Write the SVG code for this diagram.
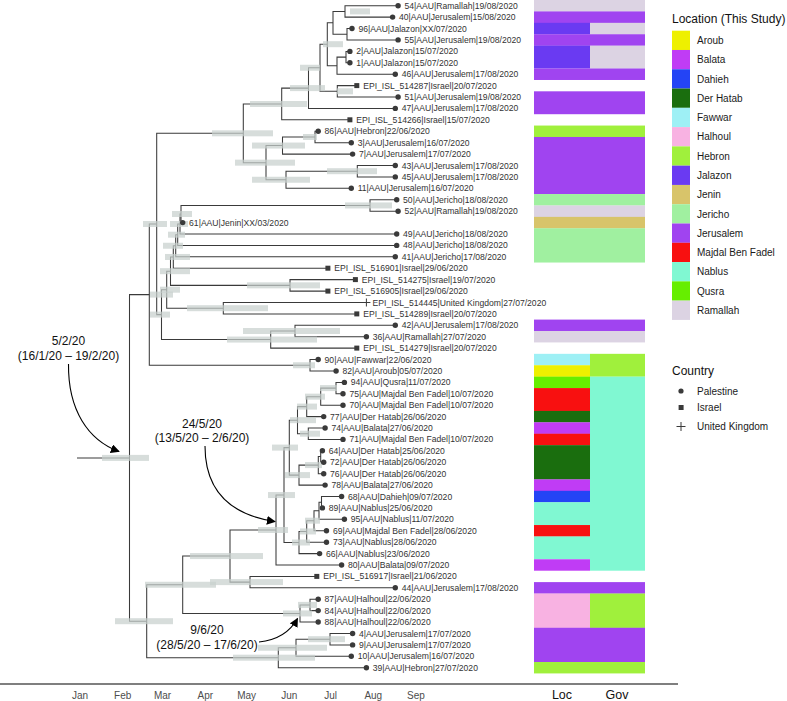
<svg xmlns="http://www.w3.org/2000/svg" width="787" height="701" viewBox="0 0 787 701">
<style>
text{font-family:"Liberation Sans",Arial,sans-serif}
.tl{font-size:8.6px;fill:#333}
.br{fill:none;stroke:#3a3a3a;stroke-width:1.05}
.hpd{fill:#c8d0cd;fill-opacity:.72}
.d{fill:#3a3a3a}
.ax{font-size:10px;fill:#4d4d4d;text-anchor:middle}
.an{font-size:12px;fill:#111;text-anchor:middle}
.lg{font-size:10px;fill:#1a1a1a}
.lt{font-size:12px;fill:#111}
.Aroub{fill:#EEF000}.Balata{fill:#C03CF5}.Dahieh{fill:#2444F5}.DerHatab{fill:#1A6E0E}.Fawwar{fill:#9EF0F5}.Halhoul{fill:#F8B2E2}.Hebron{fill:#A0F03C}.Jalazon{fill:#6A3AF2}.Jenin{fill:#D8C46A}.Jericho{fill:#A0F0A0}.Jerusalem{fill:#A044F0}.Majdal{fill:#F81010}.Nablus{fill:#80F8D2}.Qusra{fill:#66EE00}.Ramallah{fill:#DCD3E3}
</style>
<defs>
<marker id="ah" viewBox="0 0 10 10" refX="9" refY="5" markerWidth="9" markerHeight="9" orient="auto" markerUnits="userSpaceOnUse"><path d="M0,0 L10,5 L0,10 z" fill="#000"/></marker>
</defs>
<g id="connectors">
<path class="br" d="M77,457.9 H129.5"/>
<path class="br" d="M398.1,5.7 H345 V17.1 H392.6"/>
<path class="br" d="M352,28.5 H347 V39.9 H398.1"/>
<path class="br" d="M345,11.4 H333 V34.2 H347"/>
<path class="br" d="M349.9,51.4 H346 V62.8 H349.9"/>
<path class="br" d="M346,57.1 H337 V74.2 H395.3"/>
<path class="br" d="M333,22.8 H327.3 V65.65 H337"/>
<path class="br" d="M356.8,85.6 H337.3 V97 H398.1"/>
<path class="br" d="M327.3,44.2 H320 V91.3 H337.3"/>
<path class="br" d="M320,67.75 H308.5 V108.4 H395.3"/>
<path class="br" d="M308.5,88.1 H281.7 V119.8 H349.9"/>
<path class="br" d="M318.2,131.3 H315 V142.7 H351.3"/>
<path class="br" d="M315,137 H282.5 V154.1 H352.6"/>
<path class="br" d="M395.3,165.5 H357.3 V176.9 H395.3"/>
<path class="br" d="M357.3,171.2 H286 V188.3 H351.3"/>
<path class="br" d="M282.5,145.55 H266 V179.75 H286"/>
<path class="br" d="M281.7,103.95 H243.3 V162.65 H266"/>
<path class="br" d="M396.7,199.7 H370 V211.2 H398.1"/>
<path class="br" d="M370,205.45 H181 V222.6 H182.7"/>
<path class="br" d="M181,214 H180 V234 H396.7"/>
<path class="br" d="M180,224 H177.7 V245.4 H396.7"/>
<path class="br" d="M177.7,234.7 H175.7 V256.8 H395.3"/>
<path class="br" d="M175.7,245.75 H173.3 V268.2 H327.9"/>
<path class="br" d="M355.4,279.6 H290 V291.1 H327.9"/>
<path class="br" d="M173.3,256.98 H170.5 V285.35 H290"/>
<path class="br" d="M366.4,302.5 H223.3 V313.9 H356.8"/>
<path class="br" d="M170.5,271.17 H166.7 V308.2 H223.3"/>
<path class="br" d="M395.3,325.3 H295 V336.7 H366.4"/>
<path class="br" d="M295,331 H270.7 V348.1 H356.8"/>
<path class="br" d="M166.7,289.7 H161.5 V339.55 H270.7"/>
<path class="br" d="M243.3,133.3 H156.7 V314.6 H161.5"/>
<path class="br" d="M318.2,359.5 H310 V371 H336.1"/>
<path class="br" d="M156.7,223.95 H149.3 V365.25 H310"/>
<path class="br" d="M344.4,382.4 H336 V393.8 H343"/>
<path class="br" d="M336,388.1 H320.7 V405.2 H343"/>
<path class="br" d="M320.7,396.65 H306.7 V416.6 H323.7"/>
<path class="br" d="M325.1,428 H308.3 V439.4 H343"/>
<path class="br" d="M306.7,406.6 H297.5 V433.7 H308.3"/>
<path class="br" d="M322.4,450.8 H320.7 V462.3 H323.7"/>
<path class="br" d="M320.7,456.55 H318.3 V473.7 H323.7"/>
<path class="br" d="M318.3,465.1 H299 V485.1 H325.1"/>
<path class="br" d="M297.5,420.15 H289.3 V475.1 H299"/>
<path class="br" d="M341.6,496.5 H321.5 V507.9 H322.4"/>
<path class="br" d="M321.5,502.2 H319 V519.3 H344.4"/>
<path class="br" d="M319,510.75 H314 V530.7 H326.5"/>
<path class="br" d="M314,520.7 H306.7 V542.2 H326.5"/>
<path class="br" d="M306.7,531.45 H299 V553.6 H319.6"/>
<path class="br" d="M289.3,447.6 H284 V542.5 H299"/>
<path class="br" d="M284,495.05 H276 V565 H341.6"/>
<path class="br" d="M316.8,576.4 H250 V587.8 H395.3"/>
<path class="br" d="M276,530 H230 V582.1 H250"/>
<path class="br" d="M318.2,599.2 H310 V610.6 H318.2"/>
<path class="br" d="M310,604.9 H300 V622 H318.2"/>
<path class="br" d="M230,556.05 H182.7 V613.45 H300"/>
<path class="br" d="M352.6,633.5 H330 V644.9 H352.6"/>
<path class="br" d="M330,639.2 H296 V656.3 H351.3"/>
<path class="br" d="M296,647.75 H278.3 V667.7 H366.4"/>
<path class="br" d="M182.7,584.75 H146.7 V657.7 H278.3"/>
<path class="br" d="M149.3,294.6 H129.5 V621.2 H146.7"/>
</g>
<g id="hpd-bars">
<rect class="hpd" x="102" y="454.9" width="47" height="6"/>
<rect class="hpd" x="150" y="291.6" width="23" height="6"/>
<rect class="hpd" x="143" y="221" width="24" height="6"/>
<rect class="hpd" x="150" y="311.6" width="20" height="6"/>
<rect class="hpd" x="212" y="130.3" width="61" height="6"/>
<rect class="hpd" x="250" y="101" width="57" height="6"/>
<rect class="hpd" x="290" y="85.1" width="35" height="6"/>
<rect class="hpd" x="300" y="64.75" width="20" height="6"/>
<rect class="hpd" x="323" y="41.2" width="20" height="6"/>
<rect class="hpd" x="350" y="8.4" width="20" height="6"/>
<rect class="hpd" x="337" y="88.3" width="16" height="6"/>
<rect class="hpd" x="235" y="159.65" width="60" height="6"/>
<rect class="hpd" x="252" y="142.55" width="53" height="6"/>
<rect class="hpd" x="252" y="176.75" width="58" height="6"/>
<rect class="hpd" x="303" y="134" width="14" height="6"/>
<rect class="hpd" x="327" y="168.2" width="50" height="6"/>
<rect class="hpd" x="345" y="202.45" width="47" height="6"/>
<rect class="hpd" x="172" y="211" width="20" height="6"/>
<rect class="hpd" x="170" y="221" width="18" height="6"/>
<rect class="hpd" x="168" y="231.7" width="17" height="6"/>
<rect class="hpd" x="163" y="242.75" width="20" height="6"/>
<rect class="hpd" x="165" y="253.98" width="25" height="6"/>
<rect class="hpd" x="160" y="268.17" width="30" height="6"/>
<rect class="hpd" x="160" y="286.7" width="20" height="6"/>
<rect class="hpd" x="247" y="282.35" width="73" height="6"/>
<rect class="hpd" x="187" y="305.2" width="81" height="6"/>
<rect class="hpd" x="243" y="328" width="97" height="6"/>
<rect class="hpd" x="227" y="336.55" width="90" height="6"/>
<rect class="hpd" x="293" y="362.25" width="22" height="6"/>
<rect class="hpd" x="115" y="618.2" width="58" height="6"/>
<rect class="hpd" x="145" y="581.75" width="71" height="6"/>
<rect class="hpd" x="190" y="553.05" width="73" height="6"/>
<rect class="hpd" x="258" y="527" width="30" height="6"/>
<rect class="hpd" x="210" y="579.1" width="73" height="6"/>
<rect class="hpd" x="268" y="492.05" width="27" height="6"/>
<rect class="hpd" x="272" y="444.6" width="26" height="6"/>
<rect class="hpd" x="290" y="417.15" width="26" height="6"/>
<rect class="hpd" x="285" y="472.1" width="25" height="6"/>
<rect class="hpd" x="297" y="403.6" width="20" height="6"/>
<rect class="hpd" x="305" y="393.65" width="20" height="6"/>
<rect class="hpd" x="320" y="385.1" width="17" height="6"/>
<rect class="hpd" x="300" y="430.7" width="20" height="6"/>
<rect class="hpd" x="305" y="462.1" width="17" height="6"/>
<rect class="hpd" x="292" y="539.5" width="18" height="6"/>
<rect class="hpd" x="300" y="528.45" width="16" height="6"/>
<rect class="hpd" x="305" y="517.7" width="15" height="6"/>
<rect class="hpd" x="283" y="610.45" width="29" height="6"/>
<rect class="hpd" x="298" y="601.9" width="19" height="6"/>
<rect class="hpd" x="233" y="654.7" width="82" height="6"/>
<rect class="hpd" x="258" y="644.75" width="69" height="6"/>
<rect class="hpd" x="308" y="636.2" width="37" height="6"/>
</g>
<g id="tips">
<g id="t54"><circle class="d" cx="398.1" cy="5.7" r="2.7"/><text class="tl" x="404.5" y="8.7">54|AAU|Ramallah|19/08/2020</text></g>
<g id="t40"><circle class="d" cx="392.6" cy="17.1" r="2.7"/><text class="tl" x="399" y="20.1">40|AAU|Jerusalem|15/08/2020</text></g>
<g id="t96"><circle class="d" cx="352" cy="28.5" r="2.7"/><text class="tl" x="358.4" y="31.5">96|AAU|Jalazon|XX/07/2020</text></g>
<g id="t55"><circle class="d" cx="398.1" cy="39.9" r="2.7"/><text class="tl" x="404.5" y="42.9">55|AAU|Jerusalem|19/08/2020</text></g>
<g id="t2"><circle class="d" cx="349.9" cy="51.4" r="2.7"/><text class="tl" x="356.3" y="54.4">2|AAU|Jalazon|15/07/2020</text></g>
<g id="t1"><circle class="d" cx="349.9" cy="62.8" r="2.7"/><text class="tl" x="356.3" y="65.8">1|AAU|Jalazon|15/07/2020</text></g>
<g id="t46"><circle class="d" cx="395.3" cy="74.2" r="2.7"/><text class="tl" x="401.7" y="77.2">46|AAU|Jerusalem|17/08/2020</text></g>
<g id="e514287"><rect class="d" x="354.3" y="83.1" width="5" height="5"/><text class="tl" x="363.2" y="88.6">EPI_ISL_514287|Israel|20/07/2020</text></g>
<g id="t51"><circle class="d" cx="398.1" cy="97" r="2.7"/><text class="tl" x="404.5" y="100">51|AAU|Jerusalem|19/08/2020</text></g>
<g id="t47"><circle class="d" cx="395.3" cy="108.4" r="2.7"/><text class="tl" x="401.7" y="111.4">47|AAU|Jerusalem|17/08/2020</text></g>
<g id="e514266"><rect class="d" x="347.4" y="117.3" width="5" height="5"/><text class="tl" x="356.3" y="122.8">EPI_ISL_514266|Israel|15/07/2020</text></g>
<g id="t86"><circle class="d" cx="318.2" cy="131.3" r="2.7"/><text class="tl" x="324.6" y="134.3">86|AAU|Hebron|22/06/2020</text></g>
<g id="t3"><circle class="d" cx="351.3" cy="142.7" r="2.7"/><text class="tl" x="357.7" y="145.7">3|AAU|Jerusalem|16/07/2020</text></g>
<g id="t7"><circle class="d" cx="352.6" cy="154.1" r="2.7"/><text class="tl" x="359" y="157.1">7|AAU|Jerusalem|17/07/2020</text></g>
<g id="t43"><circle class="d" cx="395.3" cy="165.5" r="2.7"/><text class="tl" x="401.7" y="168.5">43|AAU|Jerusalem|17/08/2020</text></g>
<g id="t45"><circle class="d" cx="395.3" cy="176.9" r="2.7"/><text class="tl" x="401.7" y="179.9">45|AAU|Jerusalem|17/08/2020</text></g>
<g id="t11"><circle class="d" cx="351.3" cy="188.3" r="2.7"/><text class="tl" x="357.7" y="191.3">11|AAU|Jerusalem|16/07/2020</text></g>
<g id="t50"><circle class="d" cx="396.7" cy="199.7" r="2.7"/><text class="tl" x="403.1" y="202.7">50|AAU|Jericho|18/08/2020</text></g>
<g id="t52"><circle class="d" cx="398.1" cy="211.2" r="2.7"/><text class="tl" x="404.5" y="214.2">52|AAU|Ramallah|19/08/2020</text></g>
<g id="t61"><circle class="d" cx="182.7" cy="222.6" r="2.7"/><text class="tl" x="189.1" y="225.6">61|AAU|Jenin|XX/03/2020</text></g>
<g id="t49"><circle class="d" cx="396.7" cy="234" r="2.7"/><text class="tl" x="403.1" y="237">49|AAU|Jericho|18/08/2020</text></g>
<g id="t48"><circle class="d" cx="396.7" cy="245.4" r="2.7"/><text class="tl" x="403.1" y="248.4">48|AAU|Jericho|18/08/2020</text></g>
<g id="t41"><circle class="d" cx="395.3" cy="256.8" r="2.7"/><text class="tl" x="401.7" y="259.8">41|AAU|Jericho|17/08/2020</text></g>
<g id="e516901"><rect class="d" x="325.4" y="265.7" width="5" height="5"/><text class="tl" x="334.3" y="271.2">EPI_ISL_516901|Israel|29/06/2020</text></g>
<g id="e514275"><rect class="d" x="352.9" y="277.1" width="5" height="5"/><text class="tl" x="361.8" y="282.6">EPI_ISL_514275|Israel|19/07/2020</text></g>
<g id="e516905"><rect class="d" x="325.4" y="288.6" width="5" height="5"/><text class="tl" x="334.3" y="294.1">EPI_ISL_516905|Israel|29/06/2020</text></g>
<g id="e514445"><path d="M362.4,302.5 H370.4 M366.4,298.5 V306.5" stroke="#3a3a3a" stroke-width="1"/><text class="tl" x="372.6" y="305.5">EPI_ISL_514445|United Kingdom|27/07/2020</text></g>
<g id="e514289"><rect class="d" x="354.3" y="311.4" width="5" height="5"/><text class="tl" x="363.2" y="316.9">EPI_ISL_514289|Israel|20/07/2020</text></g>
<g id="t42"><circle class="d" cx="395.3" cy="325.3" r="2.7"/><text class="tl" x="401.7" y="328.3">42|AAU|Jerusalem|17/08/2020</text></g>
<g id="t36"><circle class="d" cx="366.4" cy="336.7" r="2.7"/><text class="tl" x="372.8" y="339.7">36|AAU|Ramallah|27/07/2020</text></g>
<g id="e514279"><rect class="d" x="354.3" y="345.6" width="5" height="5"/><text class="tl" x="363.2" y="351.1">EPI_ISL_514279|Israel|20/07/2020</text></g>
<g id="t90"><circle class="d" cx="318.2" cy="359.5" r="2.7"/><text class="tl" x="324.6" y="362.5">90|AAU|Fawwar|22/06/2020</text></g>
<g id="t82"><circle class="d" cx="336.1" cy="371" r="2.7"/><text class="tl" x="342.5" y="374">82|AAU|Aroub|05/07/2020</text></g>
<g id="t94"><circle class="d" cx="344.4" cy="382.4" r="2.7"/><text class="tl" x="350.8" y="385.4">94|AAU|Qusra|11/07/2020</text></g>
<g id="t75"><circle class="d" cx="343" cy="393.8" r="2.7"/><text class="tl" x="349.4" y="396.8">75|AAU|Majdal Ben Fadel|10/07/2020</text></g>
<g id="t70"><circle class="d" cx="343" cy="405.2" r="2.7"/><text class="tl" x="349.4" y="408.2">70|AAU|Majdal Ben Fadel|10/07/2020</text></g>
<g id="t77"><circle class="d" cx="323.7" cy="416.6" r="2.7"/><text class="tl" x="330.1" y="419.6">77|AAU|Der Hatab|26/06/2020</text></g>
<g id="t74"><circle class="d" cx="325.1" cy="428" r="2.7"/><text class="tl" x="331.5" y="431">74|AAU|Balata|27/06/2020</text></g>
<g id="t71"><circle class="d" cx="343" cy="439.4" r="2.7"/><text class="tl" x="349.4" y="442.4">71|AAU|Majdal Ben Fadel|10/07/2020</text></g>
<g id="t64"><circle class="d" cx="322.4" cy="450.8" r="2.7"/><text class="tl" x="328.8" y="453.8">64|AAU|Der Hatab|25/06/2020</text></g>
<g id="t72"><circle class="d" cx="323.7" cy="462.3" r="2.7"/><text class="tl" x="330.1" y="465.3">72|AAU|Der Hatab|26/06/2020</text></g>
<g id="t76"><circle class="d" cx="323.7" cy="473.7" r="2.7"/><text class="tl" x="330.1" y="476.7">76|AAU|Der Hatab|26/06/2020</text></g>
<g id="t78"><circle class="d" cx="325.1" cy="485.1" r="2.7"/><text class="tl" x="331.5" y="488.1">78|AAU|Balata|27/06/2020</text></g>
<g id="t68"><circle class="d" cx="341.6" cy="496.5" r="2.7"/><text class="tl" x="348" y="499.5">68|AAU|Dahieh|09/07/2020</text></g>
<g id="t89"><circle class="d" cx="322.4" cy="507.9" r="2.7"/><text class="tl" x="328.8" y="510.9">89|AAU|Nablus|25/06/2020</text></g>
<g id="t95"><circle class="d" cx="344.4" cy="519.3" r="2.7"/><text class="tl" x="350.8" y="522.3">95|AAU|Nablus|11/07/2020</text></g>
<g id="t69"><circle class="d" cx="326.5" cy="530.7" r="2.7"/><text class="tl" x="332.9" y="533.7">69|AAU|Majdal Ben Fadel|28/06/2020</text></g>
<g id="t73"><circle class="d" cx="326.5" cy="542.2" r="2.7"/><text class="tl" x="332.9" y="545.2">73|AAU|Nablus|28/06/2020</text></g>
<g id="t66"><circle class="d" cx="319.6" cy="553.6" r="2.7"/><text class="tl" x="326" y="556.6">66|AAU|Nablus|23/06/2020</text></g>
<g id="t80"><circle class="d" cx="341.6" cy="565" r="2.7"/><text class="tl" x="348" y="568">80|AAU|Balata|09/07/2020</text></g>
<g id="e516917"><rect class="d" x="314.3" y="573.9" width="5" height="5"/><text class="tl" x="323.2" y="579.4">EPI_ISL_516917|Israel|21/06/2020</text></g>
<g id="t44"><circle class="d" cx="395.3" cy="587.8" r="2.7"/><text class="tl" x="401.7" y="590.8">44|AAU|Jerusalem|17/08/2020</text></g>
<g id="t87"><circle class="d" cx="318.2" cy="599.2" r="2.7"/><text class="tl" x="324.6" y="602.2">87|AAU|Halhoul|22/06/2020</text></g>
<g id="t84"><circle class="d" cx="318.2" cy="610.6" r="2.7"/><text class="tl" x="324.6" y="613.6">84|AAU|Halhoul|22/06/2020</text></g>
<g id="t88"><circle class="d" cx="318.2" cy="622" r="2.7"/><text class="tl" x="324.6" y="625">88|AAU|Halhoul|22/06/2020</text></g>
<g id="t4"><circle class="d" cx="352.6" cy="633.5" r="2.7"/><text class="tl" x="359" y="636.5">4|AAU|Jerusalem|17/07/2020</text></g>
<g id="t9"><circle class="d" cx="352.6" cy="644.9" r="2.7"/><text class="tl" x="359" y="647.9">9|AAU|Jerusalem|17/07/2020</text></g>
<g id="t10"><circle class="d" cx="351.3" cy="656.3" r="2.7"/><text class="tl" x="357.7" y="659.3">10|AAU|Jerusalem|16/07/2020</text></g>
<g id="t39"><circle class="d" cx="366.4" cy="667.7" r="2.7"/><text class="tl" x="372.8" y="670.7">39|AAU|Hebron|27/07/2020</text></g>
</g>
<g id="heatmap">
<rect class="Ramallah" x="534" y="0" width="111" height="11.6"/>
<rect class="Jerusalem" x="534" y="11.41" width="111" height="11.6"/>
<rect class="Jalazon" x="534" y="22.83" width="56" height="11.6"/><rect class="Ramallah" x="590" y="22.83" width="55" height="11.6"/>
<rect class="Jerusalem" x="534" y="34.24" width="111" height="11.6"/>
<rect class="Jalazon" x="534" y="45.66" width="56" height="22.9"/><rect class="Ramallah" x="590" y="45.66" width="55" height="22.9"/>
<rect class="Jerusalem" x="534" y="68.48" width="111" height="11.5"/>
<rect class="Jerusalem" x="534" y="91.31" width="111" height="22.9"/>
<rect class="Hebron" x="534" y="125.55" width="111" height="11.6"/>
<rect class="Jerusalem" x="534" y="136.97" width="111" height="57.2"/>
<rect class="Jericho" x="534" y="194.04" width="111" height="11.6"/>
<rect class="Ramallah" x="534" y="205.45" width="111" height="11.6"/>
<rect class="Jenin" x="534" y="216.87" width="111" height="11.6"/>
<rect class="Jericho" x="534" y="228.28" width="111" height="34.25"/>
<rect class="Jerusalem" x="534" y="319.59" width="111" height="11.6"/>
<rect class="Ramallah" x="534" y="331.01" width="111" height="11.41"/>
<rect class="Fawwar" x="534" y="353.83" width="56" height="11.6"/>
<rect class="Aroub" x="534" y="365.25" width="56" height="11.6"/>
<rect class="Hebron" x="590" y="353.83" width="55" height="22.9"/>
<rect class="Qusra" x="534" y="376.66" width="56" height="11.6"/>
<rect class="Majdal" x="534" y="388.08" width="56" height="22.9"/>
<rect class="DerHatab" x="534" y="410.9" width="56" height="11.6"/>
<rect class="Balata" x="534" y="422.32" width="56" height="11.6"/>
<rect class="Majdal" x="534" y="433.73" width="56" height="11.6"/>
<rect class="DerHatab" x="534" y="445.15" width="56" height="34.4"/>
<rect class="Balata" x="534" y="479.39" width="56" height="11.6"/>
<rect class="Dahieh" x="534" y="490.8" width="56" height="11.6"/>
<rect class="Nablus" x="534" y="502.22" width="56" height="22.9"/>
<rect class="Majdal" x="534" y="525.04" width="56" height="11.6"/>
<rect class="Nablus" x="534" y="536.46" width="56" height="22.9"/>
<rect class="Balata" x="534" y="559.29" width="56" height="11.41"/>
<rect class="Nablus" x="590" y="376.66" width="55" height="194.04"/>
<rect class="Jerusalem" x="534" y="582.11" width="111" height="11.6"/>
<rect class="Halhoul" x="534" y="593.53" width="56" height="34.4"/>
<rect class="Hebron" x="590" y="593.53" width="55" height="34.4"/>
<rect class="Jerusalem" x="534" y="627.77" width="111" height="34.4"/>
<rect class="Hebron" x="534" y="662.01" width="111" height="11.41"/>
</g>
<g id="axis">
<path d="M0,684 H678" stroke="#000" stroke-width="1.1"/>
<text class="ax" x="80" y="698.5">Jan</text>
<text class="ax" x="122.7" y="698.5">Feb</text>
<text class="ax" x="162.6" y="698.5">Mar</text>
<text class="ax" x="205.3" y="698.5">Apr</text>
<text class="ax" x="246.6" y="698.5">May</text>
<text class="ax" x="289.3" y="698.5">Jun</text>
<text class="ax" x="330.6" y="698.5">Jul</text>
<text class="ax" x="373.3" y="698.5">Aug</text>
<text class="ax" x="416" y="698.5">Sep</text>
<text x="562" y="699" font-size="12.5" fill="#111" text-anchor="middle">Loc</text>
<text x="617" y="699" font-size="12.5" fill="#111" text-anchor="middle">Gov</text>
</g>
<g id="annotations">
<text class="an" x="68.5" y="345">5/2/20</text>
<text class="an" x="68.5" y="360">(16/1/20 – 19/2/20)</text>
<path d="M68.5,364 C68,410 88,440 119,451.5" fill="none" stroke="#000" stroke-width="1.1" marker-end="url(#ah)"/>
<text class="an" x="202" y="427.5">24/5/20</text>
<text class="an" x="202" y="442">(13/5/20 – 2/6/20)</text>
<path d="M205,446 C205,492 232,515 275,521.5" fill="none" stroke="#000" stroke-width="1.1" marker-end="url(#ah)"/>
<text class="an" x="207" y="634">9/6/20</text>
<text class="an" x="207" y="648.5">(28/5/20 – 17/6/20)</text>
<path d="M259,642 C278,640 290,632 297.5,618.5" fill="none" stroke="#000" stroke-width="1.1" marker-end="url(#ah)"/>
</g>
<g id="legend-location">
<text class="lt" x="672" y="22.5">Location (This Study)</text>
<rect class="Aroub" x="672" y="30.7" width="18" height="19.3"/>
<rect class="Balata" x="672" y="49.98" width="18" height="19.3"/>
<rect class="Dahieh" x="672" y="69.26" width="18" height="19.3"/>
<rect class="DerHatab" x="672" y="88.54" width="18" height="19.3"/>
<rect class="Fawwar" x="672" y="107.82" width="18" height="19.3"/>
<rect class="Halhoul" x="672" y="127.1" width="18" height="19.3"/>
<rect class="Hebron" x="672" y="146.38" width="18" height="19.3"/>
<rect class="Jalazon" x="672" y="165.66" width="18" height="19.3"/>
<rect class="Jenin" x="672" y="184.94" width="18" height="19.3"/>
<rect class="Jericho" x="672" y="204.22" width="18" height="19.3"/>
<rect class="Jerusalem" x="672" y="223.5" width="18" height="19.3"/>
<rect class="Majdal" x="672" y="242.78" width="18" height="19.3"/>
<rect class="Nablus" x="672" y="262.06" width="18" height="19.3"/>
<rect class="Qusra" x="672" y="281.34" width="18" height="19.3"/>
<rect class="Ramallah" x="672" y="300.62" width="18" height="19.3"/>
<text class="lg" x="697" y="44">Aroub</text>
<text class="lg" x="697" y="63.3">Balata</text>
<text class="lg" x="697" y="82.6">Dahieh</text>
<text class="lg" x="697" y="101.9">Der Hatab</text>
<text class="lg" x="697" y="121.2">Fawwar</text>
<text class="lg" x="697" y="140.4">Halhoul</text>
<text class="lg" x="697" y="159.7">Hebron</text>
<text class="lg" x="697" y="179">Jalazon</text>
<text class="lg" x="697" y="198.3">Jenin</text>
<text class="lg" x="697" y="217.6">Jericho</text>
<text class="lg" x="697" y="236.8">Jerusalem</text>
<text class="lg" x="697" y="256.1">Majdal Ben Fadel</text>
<text class="lg" x="697" y="275.4">Nablus</text>
<text class="lg" x="697" y="294.7">Qusra</text>
<text class="lg" x="697" y="314">Ramallah</text>
</g>
<g id="legend-country">
<text class="lt" x="672" y="374.5">Country</text>
<circle class="d" cx="681" cy="391" r="2.6"/>
<text class="lg" x="697" y="394.5">Palestine</text>
<rect class="d" x="678.6" y="405" width="5" height="5"/>
<text class="lg" x="697" y="411">Israel</text>
<path d="M676.5,426.5 H685.5 M681,422 V431" stroke="#3a3a3a" stroke-width="1"/>
<text class="lg" x="697" y="430">United Kingdom</text>
</g>
</svg>
